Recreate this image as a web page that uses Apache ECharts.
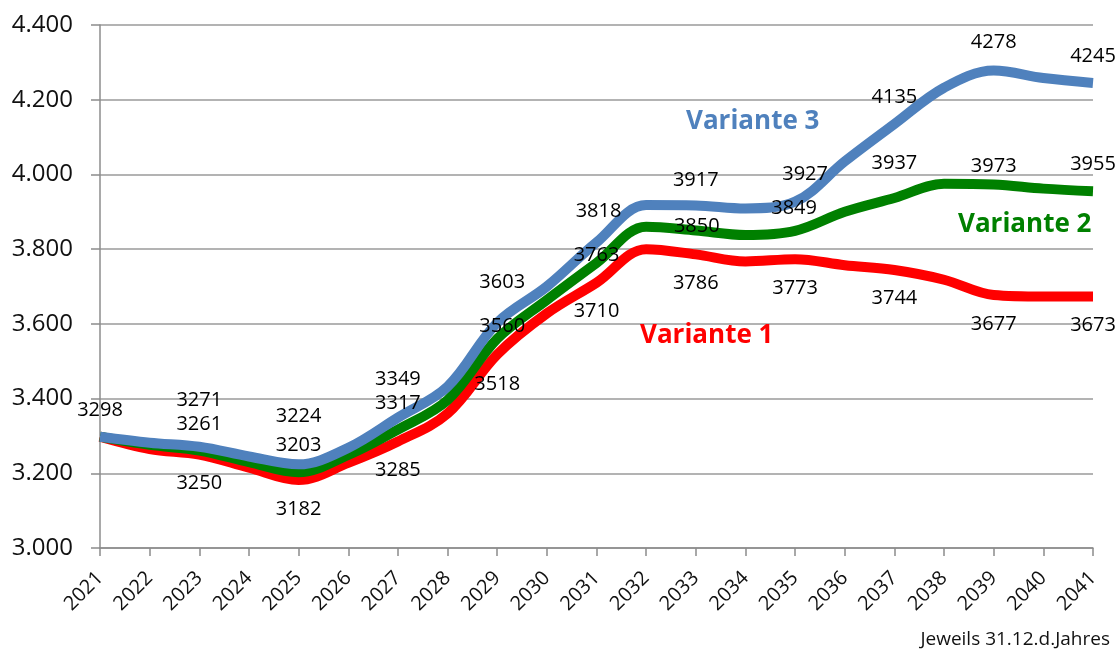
<!DOCTYPE html>
<html>
<head>
<meta charset="utf-8">
<script src="https://cdn.jsdelivr.net/npm/echarts@6/dist/echarts.min.js"></script>
<style>
html,body{margin:0;padding:0;background:#fff;}
#chart{width:1120px;height:651px;}
</style>
</head>
<body>
<div id="chart"></div>
<script>
// ---- data ----
const years = ['2021','2022','2023','2024','2025','2026','2027','2028','2029','2030','2031',
               '2032','2033','2034','2035','2036','2037','2038','2039','2040','2041'];
const variante1 = [3298,3265,3250,3215,3182,3228,3285,3360,3518,3628,3710,3800,3786,3767,3773,3757,3744,3718,3677,3673,3673];
const variante2 = [3298,3276,3261,3230,3203,3249,3317,3396,3560,3664,3763,3860,3850,3838,3849,3900,3937,3975,3973,3962,3955];
const variante3 = [3298,3282,3271,3245,3224,3268,3349,3432,3603,3700,3818,3918,3917,3909,3927,4035,4135,4232,4278,4258,4245];
const yTicks = [3000,3200,3400,3600,3800,4000,4200,4400];
const seriesNames = ['Variante 1','Variante 2','Variante 3'];

// ---- label layout (offsets of value labels, per labelled year: 2021,2023,...,2041) ----
const shift3 = [[0,-26],[0,-46],[0,-48],[0,-38],[5,-40],[2,-31],[0,-25],[10,-27],[0,-27],[0,-28],[0,-27]];
const shift2 = [null,[0,-26],[0,-27],[0,-26],[5,-13],[0,-8],[1,-4],[-1,-23],[0,-35],[0,-18],[0,-27]];
const shift1 = [null,[0,29],[0,29],[0,29],[0,30],[0,29],[0,29],[0,29],[0,28],[0,29],[0,29]];

const FONT = '"Open Sans", "DejaVu Sans", sans-serif';
const fmt = v => String(v).replace(/\B(?=(\d{3})+(?!\d))/g, '.');

function lineSeries(name, values, color, z) {
  return {
    name: name,
    type: 'line',
    smooth: 0.35,
    z: z,
    data: values,
    symbol: 'none',
    lineStyle: { color: color, width: 10, cap: 'butt', join: 'round' },
    emphasis: { disabled: true },
    silent: true,
    animation: false
  };
}

// value labels (odd years) drawn on top of all lines
function labelSeries(name, values, shifts) {
  const data = [];
  values.forEach((v, i) => {
    const s = (i % 2 === 0) ? shifts[i / 2] : null;
    if (s) {
      data.push({
        value: [years[i], v],
        label: { position: [1 + s[0], 1 + s[1]] }
      });
    }
  });
  return {
    name: name + ' (Werte)',
    type: 'scatter',
    z: 10,
    data: data,
    symbol: 'rect',
    symbolSize: 2,
    itemStyle: { color: 'rgba(255,255,255,0)', opacity: 1 },
    label: {
      show: true,
      opacity: 1,
      align: 'center',
      verticalAlign: 'middle',
      color: '#000',
      textBorderWidth: 0,
      fontFamily: FONT,
      fontSize: 20,
      formatter: p => String(p.value[1])
    },
    labelLayout: { hideOverlap: false },
    emphasis: { disabled: true },
    silent: true,
    animation: false
  };
}

const chart = echarts.init(document.getElementById('chart'), null, { renderer: 'canvas' });
chart.setOption({
  animation: false,
  backgroundColor: '#fff',
  grid: { left: 100, right: 27, top: 25, bottom: 103, containLabel: false },
  xAxis: {
    type: 'category',
    data: years,
    boundaryGap: false,
    axisLine: { lineStyle: { color: '#8c8c8c', width: 1.5 } },
    axisTick: { show: true, length: 8, interval: 0, lineStyle: { color: '#8c8c8c', width: 1.5 } },
    axisLabel: { interval: 0, rotate: 45, margin: 27, color: '#111', fontFamily: FONT, fontSize: 20 },
    splitLine: { show: false }
  },
  yAxis: {
    type: 'value',
    min: yTicks[0],
    max: yTicks[yTicks.length - 1],
    interval: yTicks[1] - yTicks[0],
    axisLine: { show: true, lineStyle: { color: '#8c8c8c', width: 1.5 } },
    axisTick: { show: true, length: 9, lineStyle: { color: '#8c8c8c', width: 1.5 } },
    axisLabel: { margin: 27, color: '#111', fontFamily: FONT, fontSize: 24, formatter: fmt },
    splitLine: { lineStyle: { color: '#9a9a9a', width: 1.5 } }
  },
  series: [
    lineSeries(seriesNames[0], variante1, '#ff0000', 2),
    lineSeries(seriesNames[1], variante2, '#008000', 3),
    lineSeries(seriesNames[2], variante3, '#4f81bd', 4),
    labelSeries(seriesNames[0], variante1, shift1),
    labelSeries(seriesNames[1], variante2, shift2),
    labelSeries(seriesNames[2], variante3, shift3)
  ],
  graphic: [
    { type: 'text', left: 686, top: 109, z: 10,
      style: { text: seriesNames[2], fill: '#4f81bd', font: 'bold 26px ' + FONT } },
    { type: 'text', left: 958, top: 212, z: 10,
      style: { text: seriesNames[1], fill: '#008000', font: 'bold 26px ' + FONT } },
    { type: 'text', left: 640, top: 323, z: 10,
      style: { text: seriesNames[0], fill: '#ff0000', font: 'bold 26px ' + FONT } },
    { type: 'text', right: 10, top: 630, z: 10,
      style: { text: 'Jeweils 31.12.d.Jahres', fill: '#111', font: '19px ' + FONT } }
  ]
});
</script>
</body>
</html>
